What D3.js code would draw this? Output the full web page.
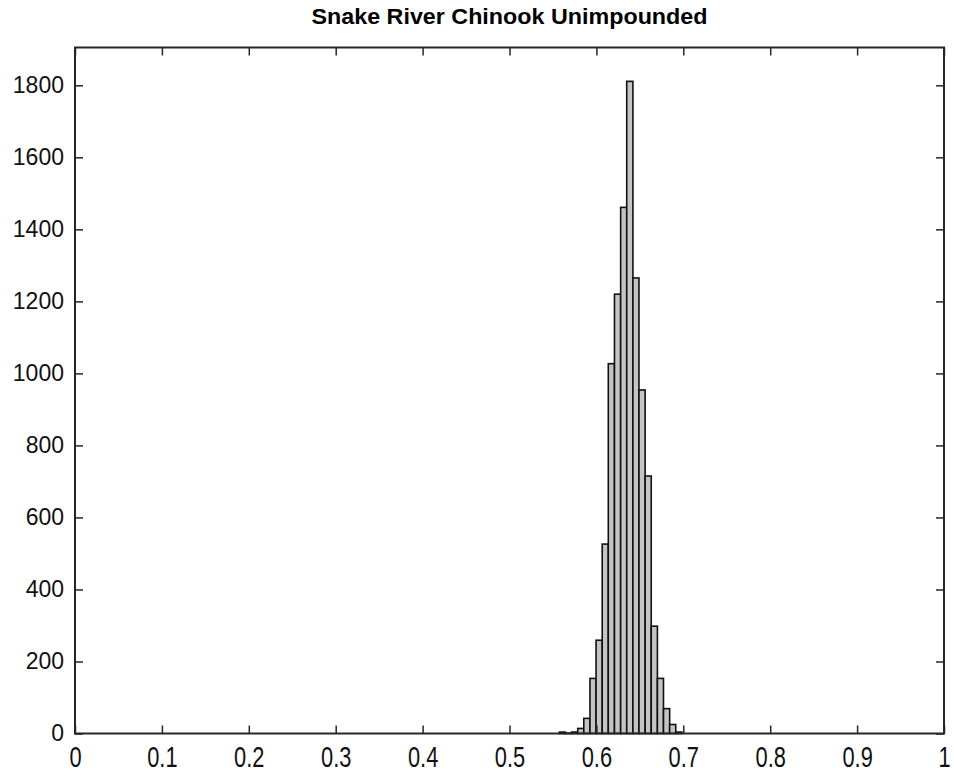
<!DOCTYPE html>
<html>
<head>
<meta charset="utf-8">
<script src="https://cdn.jsdelivr.net/npm/d3@7"></script>
<style>
  body { margin: 0; background: #fff; }
  svg { display: block; }
</style>
</head>
<body>
<svg id="chart" width="954" height="776"></svg>
<script>
(function () {
    let w = 954,
        h = 776;

    // histogram (20 bins)
    let binEdges = [0.5573, 0.5644, 0.5714, 0.5785, 0.5855, 0.5926, 0.5996,
        0.6067, 0.6137, 0.6208, 0.6279, 0.6349, 0.6420, 0.6490, 0.6561,
        0.6631, 0.6702, 0.6772, 0.6843, 0.6913, 0.6984];
    let counts = [4, 1, 4, 14, 42, 153, 259, 526, 1027, 1220, 1461, 1811,
        1265, 954, 715, 298, 153, 69, 25, 4];
    let xTicks = [0, 0.1, 0.2, 0.3, 0.4, 0.5, 0.6, 0.7, 0.8, 0.9, 1];
    let yTicks = [0, 200, 400, 600, 800, 1000, 1200, 1400, 1600, 1800];
    let title = "Snake River Chinook Unimpounded";

    let left = 75, right = 944, top = 47.5, bottom = 733.5;

    let x = d3.scaleLinear().domain([0, 1]).range([left, right]);
    let y = d3.scaleLinear().domain([0, 1905]).range([bottom, top]);

    let svg = d3.select("#chart");
    let axisColor = "#262626";

    let bins = counts.map(function (c, i) {
        return {x0: binEdges[i], x1: binEdges[i + 1], n: c};
    });

    // bars
    svg.append("g").selectAll("rect")
        .data(bins).enter().append("rect")
        .attr("x", d => x(d.x0))
        .attr("y", d => y(d.n))
        .attr("width", d => x(d.x1) - x(d.x0))
        .attr("height", d => y(0) - y(d.n))
        .attr("fill", "#c4c4c4")
        .attr("stroke", "#111")
        .attr("stroke-width", 1.6);

    // axes, ticks pointing inwards, mirrored on top / right
    let xAxis = d3.axisBottom(x).tickValues(xTicks).tickSize(-8).tickPadding(12)
        .tickFormat(d3.format("~g"));
    let yAxis = d3.axisLeft(y).tickValues(yTicks).tickSize(-8).tickPadding(11)
        .tickFormat(d3.format("d"));

    let gx = svg.append("g").attr("transform", `translate(0,${bottom})`).call(xAxis);
    let gy = svg.append("g").attr("transform", `translate(${left},0)`).call(yAxis);
    let gxt = svg.append("g").attr("transform", `translate(0,${top})`)
        .call(d3.axisTop(x).tickValues(xTicks).tickSize(-8).tickFormat(""));
    let gyr = svg.append("g").attr("transform", `translate(${right},0)`)
        .call(d3.axisRight(y).tickValues(yTicks).tickSize(-8).tickFormat(""));

    [gx, gy, gxt, gyr].forEach(function (g) {
        g.select(".domain").remove();
        g.selectAll(".tick line").attr("stroke", axisColor).attr("stroke-width", 1.5);
    });

    gx.selectAll("text")
        .attr("font-family", "Arial, 'Liberation Sans', sans-serif")
        .attr("font-size", 23)
        .attr("fill", "#111")
        .attr("dy", 0)
        .attr("y", 0)
        .attr("transform", "translate(0,33) scale(0.95,1.3)");

    gy.selectAll("text")
        .attr("font-family", "Arial, 'Liberation Sans', sans-serif")
        .attr("font-size", 23)
        .attr("fill", "#111");

    // frame
    svg.append("rect")
        .attr("x", left).attr("y", top)
        .attr("width", right - left).attr("height", bottom - top)
        .attr("fill", "none")
        .attr("stroke", axisColor)
        .attr("stroke-width", 2);

    svg.append("text")
        .attr("x", (left + right) / 2)
        .attr("y", 24)
        .attr("text-anchor", "middle")
        .attr("font-family", "Arial, 'Liberation Sans', sans-serif")
        .attr("font-weight", "bold")
        .attr("font-size", 22)
        .attr("textLength", 396)
        .attr("lengthAdjust", "spacingAndGlyphs")
        .attr("fill", "#000")
        .text(title);
})();
</script>
</body>
</html>
